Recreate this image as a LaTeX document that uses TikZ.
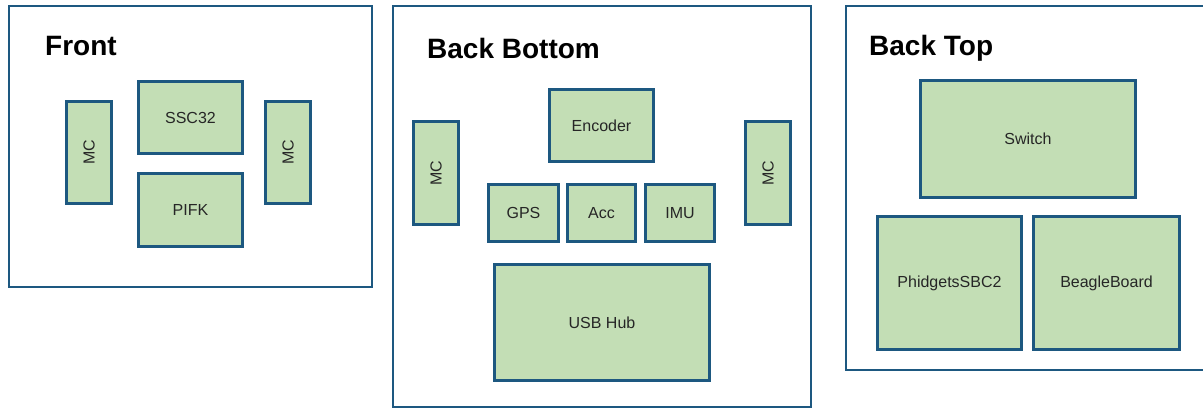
\documentclass[tikz,border=0pt]{standalone}
\usepackage{fontspec}
\setmainfont{Liberation Sans}
\definecolor{boxfill}{HTML}{C3DEB5}
\definecolor{boxline}{HTML}{1D5880}
\begin{document}
\begin{tikzpicture}[x=1pt,y=-1pt,
  panel/.style={draw=boxline,line width=2pt,fill=white},
  part/.style={draw=boxline,line width=2.6pt,fill=boxfill,inner sep=0pt,font=\fontsize{16}{18}\selectfont,text=black!85},
  vpart/.style={part,rotate=90},
  title/.style={anchor=base west,inner sep=0pt,font=\fontsize{28}{30}\selectfont\bfseries}]
\useasboundingbox (0,0) rectangle (1203,410);
\clip (0,0) rectangle (1203,410);
% panels
\draw[panel] (9,6) rectangle (372,287);
\draw[panel] (393,6) rectangle (811,407);
\draw[panel] (846,6) rectangle (1220,370);
\node[title] (tfront) at (45,55) {Front};
\node[title] (tbb) at (427,58) {Back Bottom};
\node[title] (tbt) at (869,55) {Back Top};
% Front
\node[vpart,minimum width=102pt,minimum height=45pt] (fmc1) at (89,152.5) {MC};
\node[part,minimum width=104pt,minimum height=72pt] (ssc) at (190.5,117.5) {SSC32};
\node[part,minimum width=104pt,minimum height=73pt] (pifk) at (190.5,210) {PIFK};
\node[vpart,minimum width=102pt,minimum height=45pt] (fmc2) at (288,152.5) {MC};
% Back bottom
\node[part,minimum width=104pt,minimum height=72pt] (enc) at (601.5,125.5) {Encoder};
\node[vpart,minimum width=103pt,minimum height=45pt] (bmc1) at (436,173) {MC};
\node[vpart,minimum width=103pt,minimum height=45pt] (bmc2) at (768,173) {MC};
\node[part,minimum width=70pt,minimum height=57pt] (gps) at (523.5,213) {GPS};
\node[part,minimum width=68pt,minimum height=57pt] (acc) at (601.5,213) {Acc};
\node[part,minimum width=69pt,minimum height=57pt] (imu) at (680,213) {IMU};
\node[part,minimum width=215pt,minimum height=116pt] (usb) at (602,322.5) {USB Hub};
% Back top
\node[part,minimum width=215pt,minimum height=117pt] (sw) at (1028,139) {Switch};
\node[part,minimum width=144pt,minimum height=133pt] (phid) at (949.5,283) {PhidgetsSBC2};
\node[part,minimum width=146pt,minimum height=133pt] (beagle) at (1106.5,283) {BeagleBoard};
\end{tikzpicture}
\end{document}
